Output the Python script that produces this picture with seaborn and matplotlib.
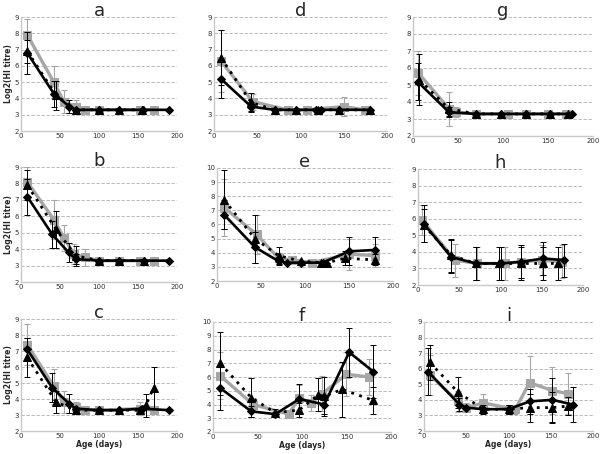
import seaborn as sns
import numpy as np
import matplotlib.pyplot as plt
import pandas as pd

# x = age (days), y = log2(HI titre), e = error bar (+/-)
# series: dia = black diamonds (solid), sq = grey squares, tri = black triangles (dotted)
a_dia_x = [8, 42, 62, 70, 100, 125, 157, 190]
a_dia_y = [6.8, 4.3, 3.5, 3.3, 3.3, 3.3, 3.3, 3.3]
a_dia_e = [1.3, 0.8, 0.4, 0, 0, 0, 0, 0]
a_sq_x = [8, 42, 55, 70, 82, 100, 152, 170]
a_sq_y = [7.9, 5.0, 3.8, 3.5, 3.3, 3.3, 3.3, 3.3]
a_sq_e = [1.0, 1.0, 0.7, 0.4, 0, 0, 0, 0]
a_tri_x = [8, 45, 70, 100, 125, 155]
a_tri_y = [6.9, 4.2, 3.3, 3.3, 3.3, 3.3]
a_tri_e = [0.7, 0.9, 0, 0, 0, 0]

b_dia_x = [8, 40, 61, 70, 100, 125, 158, 190]
b_dia_y = [7.2, 4.9, 3.8, 3.4, 3.3, 3.3, 3.3, 3.3]
b_dia_e = [1.1, 0.8, 0.6, 0.3, 0, 0, 0, 0]
b_sq_x = [8, 42, 55, 68, 82, 100, 125, 152, 170]
b_sq_y = [8.1, 5.8, 4.7, 3.7, 3.5, 3.3, 3.3, 3.3, 3.3]
b_sq_e = [0.9, 1.2, 0.8, 0.6, 0.5, 0, 0, 0, 0]
b_tri_x = [8, 45, 70, 100, 125, 158]
b_tri_y = [7.9, 5.2, 3.6, 3.3, 3.3, 3.3]
b_tri_e = [0.9, 1.1, 0.6, 0, 0, 0]

c_dia_x = [8, 40, 62, 70, 100, 125, 155, 190]
c_dia_y = [7.1, 4.7, 3.7, 3.4, 3.3, 3.3, 3.4, 3.3]
c_dia_e = [0.7, 0.9, 0.6, 0, 0, 0, 0, 0]
c_sq_x = [8, 42, 55, 70, 82, 100, 152, 170]
c_sq_y = [7.4, 4.8, 3.8, 3.5, 3.3, 3.3, 3.4, 3.3]
c_sq_e = [1.3, 1.1, 0.7, 0.3, 0, 0, 0.4, 0]
c_tri_x = [8, 45, 70, 100, 125, 152, 160, 170]
c_tri_y = [6.6, 3.8, 3.3, 3.3, 3.3, 3.3, 3.6, 4.7]
c_tri_e = [1.2, 0.7, 0, 0, 0, 0, 0.7, 1.3]

d_dia_x = [8, 43, 70, 95, 118, 124, 145, 180]
d_dia_y = [5.2, 3.5, 3.3, 3.3, 3.3, 3.3, 3.3, 3.3]
d_dia_e = [1.2, 0.3, 0, 0, 0, 0, 0, 0]
d_sq_x = [8, 45, 85, 108, 150, 175]
d_sq_y = [6.3, 3.8, 3.3, 3.3, 3.5, 3.3]
d_sq_e = [1.9, 0.5, 0, 0, 0.6, 0]
d_tri_x = [8, 43, 70, 95, 120, 145, 180]
d_tri_y = [6.5, 3.75, 3.3, 3.3, 3.3, 3.3, 3.3]
d_tri_e = [1.7, 0.6, 0, 0, 0, 0, 0]

e_dia_x = [8, 43, 70, 80, 95, 120, 150, 180]
e_dia_y = [6.7, 4.4, 3.4, 3.3, 3.3, 3.3, 4.1, 4.2]
e_dia_e = [1.0, 1.1, 0.3, 0, 0, 0, 1.0, 0.9]
e_sq_x = [8, 45, 70, 85, 108, 150, 180]
e_sq_y = [7.2, 5.3, 3.6, 3.5, 3.3, 3.9, 3.8]
e_sq_e = [2.0, 1.4, 0.4, 0.3, 0, 1.1, 0.8]
e_tri_x = [8, 43, 70, 95, 118, 125, 145, 180]
e_tri_y = [7.75, 5.0, 3.8, 3.4, 3.3, 3.3, 3.6, 3.5]
e_tri_e = [2.1, 1.7, 0.6, 0, 0, 0, 0.5, 0.4]

f_dia_x = [8, 43, 70, 97, 125, 153, 180]
f_dia_y = [5.2, 3.5, 3.3, 4.4, 4.0, 7.8, 6.4]
f_dia_e = [1.6, 0.4, 0, 1.1, 0.7, 1.8, 1.9]
f_sq_x = [8, 45, 85, 97, 110, 123, 150, 175]
f_sq_y = [6.1, 4.0, 3.3, 4.5, 4.1, 4.8, 6.2, 6.0]
f_sq_e = [1.7, 0.5, 0, 0.9, 0.6, 1.3, 1.6, 1.3]
f_tri_x = [8, 43, 70, 97, 118, 125, 145, 180]
f_tri_y = [7.0, 4.5, 3.4, 3.6, 4.7, 4.6, 5.1, 4.3]
f_tri_e = [2.3, 1.4, 0.3, 0.5, 1.2, 1.4, 2.0, 1.0]

g_dia_x = [5, 40, 70, 98, 125, 152, 177]
g_dia_y = [5.2, 3.4, 3.3, 3.3, 3.3, 3.3, 3.3]
g_dia_e = [1.1, 0.3, 0, 0, 0, 0, 0]
g_sq_x = [6, 40, 48, 70, 105, 125, 150, 170]
g_sq_y = [5.7, 3.6, 3.4, 3.3, 3.3, 3.3, 3.3, 3.3]
g_sq_e = [1.3, 1.0, 0.3, 0, 0, 0, 0, 0]
g_tri_x = [7, 40, 70, 98, 125, 152, 172]
g_tri_y = [5.3, 3.6, 3.3, 3.3, 3.3, 3.3, 3.3]
g_tri_e = [1.5, 0.4, 0, 0, 0, 0, 0]

h_dia_x = [7, 40, 70, 100, 125, 152, 177]
h_dia_y = [5.7, 3.7, 3.3, 3.3, 3.4, 3.6, 3.5]
h_dia_e = [1.1, 1.0, 1.0, 1.0, 1.0, 1.0, 1.0]
h_sq_x = [5, 45, 72, 105, 125, 150, 175]
h_sq_y = [5.9, 3.5, 3.3, 3.3, 3.4, 3.5, 3.4]
h_sq_e = [0.9, 1.0, 1.0, 1.0, 1.0, 0.9, 1.0]
h_tri_x = [7, 40, 70, 98, 125, 152, 170]
h_tri_y = [5.6, 3.8, 3.3, 3.3, 3.3, 3.3, 3.3]
h_tri_e = [1.0, 1.0, 1.0, 1.0, 1.0, 1.0, 1.0]

i_dia_x = [5, 42, 50, 70, 100, 125, 152, 176]
i_dia_y = [5.8, 3.7, 3.5, 3.4, 3.4, 3.9, 4.0, 3.7]
i_dia_e = [1.5, 0.4, 0, 0, 0.3, 0.8, 1.4, 1.1]
i_sq_x = [7, 40, 50, 70, 108, 125, 152, 170]
i_sq_y = [5.6, 3.9, 3.5, 3.8, 3.4, 5.1, 4.6, 4.4]
i_sq_e = [1.3, 0.7, 0.3, 0.6, 0.3, 1.7, 1.5, 1.3]
i_tri_x = [7, 40, 70, 100, 125, 152, 170]
i_tri_y = [6.4, 4.5, 3.4, 3.4, 3.5, 3.5, 3.6]
i_tri_e = [1.1, 1.0, 0.3, 0.3, 0.9, 1.0, 0.6]

panels = {
    "a": (a_dia_x, a_dia_y, a_dia_e, a_sq_x, a_sq_y, a_sq_e, a_tri_x, a_tri_y, a_tri_e),
    "b": (b_dia_x, b_dia_y, b_dia_e, b_sq_x, b_sq_y, b_sq_e, b_tri_x, b_tri_y, b_tri_e),
    "c": (c_dia_x, c_dia_y, c_dia_e, c_sq_x, c_sq_y, c_sq_e, c_tri_x, c_tri_y, c_tri_e),
    "d": (d_dia_x, d_dia_y, d_dia_e, d_sq_x, d_sq_y, d_sq_e, d_tri_x, d_tri_y, d_tri_e),
    "e": (e_dia_x, e_dia_y, e_dia_e, e_sq_x, e_sq_y, e_sq_e, e_tri_x, e_tri_y, e_tri_e),
    "f": (f_dia_x, f_dia_y, f_dia_e, f_sq_x, f_sq_y, f_sq_e, f_tri_x, f_tri_y, f_tri_e),
    "g": (g_dia_x, g_dia_y, g_dia_e, g_sq_x, g_sq_y, g_sq_e, g_tri_x, g_tri_y, g_tri_e),
    "h": (h_dia_x, h_dia_y, h_dia_e, h_sq_x, h_sq_y, h_sq_e, h_tri_x, h_tri_y, h_tri_e),
    "i": (i_dia_x, i_dia_y, i_dia_e, i_sq_x, i_sq_y, i_sq_e, i_tri_x, i_tri_y, i_tri_e),
}

# axes boxes in pixels: x0, y0(top), x1, y1(bottom)
boxes = {
    "a": (21, 17, 177, 131), "d": (214, 17, 387, 131), "g": (413, 17, 593, 136),
    "b": (21, 167, 177, 282), "e": (217, 168, 393, 281), "h": (418, 169, 583, 285),
    "c": (21, 319, 177, 431), "f": (213, 322, 391, 432), "i": (424, 322, 593, 431),
}
ymax = {"e": 10, "f": 10}

sns.set_style("white")
W, H = 600, 454
fig = plt.figure(figsize=(6, 4.54), dpi=100)
grey = "#a6a6a6"

for name, vals in panels.items():
    x0, y0, x1, y1 = boxes[name]
    ax = fig.add_axes([x0 / W, 1 - y1 / H, (x1 - x0) / W, (y1 - y0) / H])
    dx, dy, de, sx, sy, se, tx, ty, te = vals
    top = ymax.get(name, 9)

    for y in range(3, top + 1):
        ax.axhline(y, color="#b0b0b0", lw=0.6, ls=(0, (4, 2)), zorder=0)

    # grey squares
    ax.errorbar(sx, sy, yerr=se, fmt="none", ecolor=grey, elinewidth=0.8, capsize=2, capthick=0.8, zorder=1)
    sns.lineplot(x=sx, y=sy, ax=ax, color=grey, lw=2.4, marker="s", markersize=5.5,
                 markeredgecolor=grey, zorder=2)
    # black diamonds
    ax.errorbar(dx, dy, yerr=de, fmt="none", ecolor="black", elinewidth=0.7, capsize=2, capthick=0.7, zorder=3)
    sns.lineplot(x=dx, y=dy, ax=ax, color="black", lw=1.9, marker="D", markersize=4.5,
                 markeredgecolor="black", zorder=4)
    # black triangles, dotted
    ax.errorbar(tx, ty, yerr=te, fmt="none", ecolor="black", elinewidth=0.7, capsize=2, capthick=0.7, zorder=5)
    sns.lineplot(x=tx, y=ty, ax=ax, color="black", lw=2.0, ls=(0, (1, 2)), marker="^", markersize=6,
                 markeredgecolor="black", zorder=6)

    ax.set_xlim(0, 200)
    ax.set_ylim(2, top)
    ax.set_xticks([0, 50, 100, 150, 200])
    ax.set_yticks(range(2, top + 1))
    ax.tick_params(labelsize=5, length=0, pad=1.5, colors="#333333")
    for s in ["top", "right"]:
        ax.spines[s].set_visible(False)
    for s in ["left", "bottom"]:
        ax.spines[s].set_color("#c8c8c8")
        ax.spines[s].set_linewidth(1.0)
    ax.set_title(name, fontsize=13, pad=1)
    ax.set_xlabel("")
    ax.set_ylabel("")
    if name in ("a", "b", "c"):
        ax.set_ylabel("Log2(HI titre)", fontsize=5.5, fontweight="bold", labelpad=1)
    if name in ("c", "f", "i"):
        ax.set_xlabel("Age (days)", fontsize=5.5, fontweight="bold", labelpad=0.5)

fig.savefig("out.png", dpi=100)
